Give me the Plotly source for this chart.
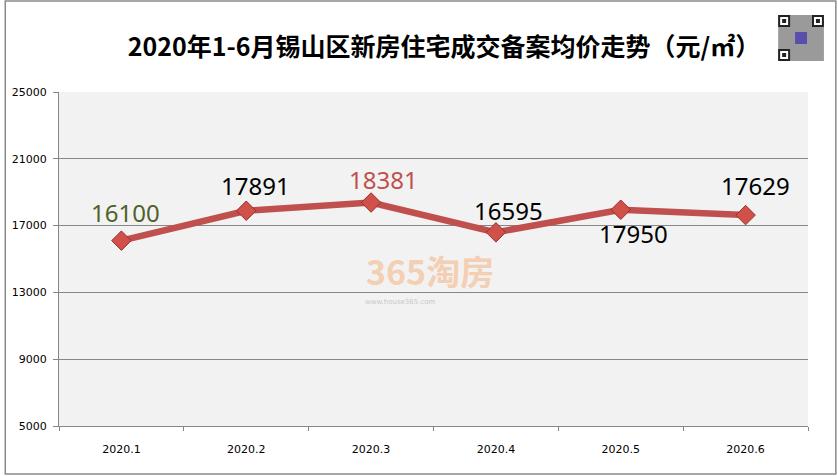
import plotly.graph_objects as go

# ---- data ----
months = ["2020.1", "2020.2", "2020.3", "2020.4", "2020.5", "2020.6"]
prices = [16100, 17891, 18381, 16595, 17950, 17629]
y_ticks = [5000, 9000, 13000, 17000, 21000, 25000]
title_text = "2020年1-6月锡山区新房住宅成交备案均价走势（元/㎡）"

# ---- styling ----
W, H = 838, 476
ML, MR, MT, MB = 55, 30, 92, 50
PW, PH = W - ML - MR, H - MT - MB
LINE = "#c0504d"
label_colors = ["#4f6228", "#000000", "#c0504d", "#000000", "#000000", "#000000"]
label_shift = [(4, 28), (9, 25), (12, 23), (13, 22), (13, -24), (10, 30)]


def px(x):
    return (x - ML) / PW


def py(y):
    return (H - MB - y) / PH


fig = go.Figure()
fig.add_trace(go.Scatter(
    x=months, y=prices, mode="lines+markers",
    line=dict(color=LINE, width=6.5),
    marker=dict(symbol="diamond", size=15, color="#d0504a",
                line=dict(color="#9b2f2c", width=1)),
    hoverinfo="x+y", showlegend=False,
))

annotations = []
for i, (v, c, (dx, dy)) in enumerate(zip(prices, label_colors, label_shift)):
    annotations.append(dict(
        x=i, y=v, xref="x", yref="y", text=str(v), showarrow=False,
        xshift=dx, yshift=dy,
        font=dict(family="Noto Sans", size=24, color=c),
    ))

# watermark
annotations.append(dict(
    x=px(428), y=py(270), xref="paper", yref="paper", text="<b>365淘房</b>",
    showarrow=False, font=dict(family="Noto Sans CJK SC", size=34, color="#f5b88a"),
    opacity=0.6,
))
annotations.append(dict(
    x=px(398), y=py(302), xref="paper", yref="paper", text="www.house365.com",
    showarrow=False, font=dict(family="DejaVu Sans", size=7, color="#c8c8c8"),
))

shapes = []
# outer border
shapes.append(dict(type="rect", xref="paper", yref="paper",
                   x0=px(1), x1=px(836), y0=py(474), y1=py(1),
                   line=dict(color="#8a8a8a", width=1.5), fillcolor="rgba(0,0,0,0)"))
# QR code approximation
qx0, qy0, qs = 778, 15, 46
shapes.append(dict(type="rect", xref="paper", yref="paper",
                   x0=px(qx0), x1=px(qx0 + qs), y0=py(qy0 + qs), y1=py(qy0),
                   line=dict(width=0), fillcolor="#9a9a9a"))
for (fx, fy) in [(qx0, qy0), (qx0 + qs - 12, qy0), (qx0, qy0 + qs - 12)]:
    shapes.append(dict(type="rect", xref="paper", yref="paper",
                       x0=px(fx), x1=px(fx + 12), y0=py(fy + 12), y1=py(fy),
                       line=dict(width=0), fillcolor="#222222"))
    shapes.append(dict(type="rect", xref="paper", yref="paper",
                       x0=px(fx + 2), x1=px(fx + 10), y0=py(fy + 10), y1=py(fy + 2),
                       line=dict(width=0), fillcolor="#ffffff"))
    shapes.append(dict(type="rect", xref="paper", yref="paper",
                       x0=px(fx + 4), x1=px(fx + 8), y0=py(fy + 8), y1=py(fy + 4),
                       line=dict(width=0), fillcolor="#222222"))
shapes.append(dict(type="rect", xref="paper", yref="paper",
                   x0=px(qx0 + 17), x1=px(qx0 + 29), y0=py(qy0 + 29), y1=py(qy0 + 17),
                   line=dict(width=0), fillcolor="#5a4fa8"))

fig.update_layout(
    width=W, height=H,
    margin=dict(l=ML, r=MR, t=MT, b=MB),
    paper_bgcolor="#ffffff", plot_bgcolor="#f2f2f2",
    title=dict(text=title_text, x=px(442), xref="paper", xanchor="center",
               y=1 - 47 / H, yref="container", yanchor="middle",
               font=dict(family="Noto Sans CJK SC", size=25, color="#000000", weight="bold")),
    annotations=annotations, shapes=shapes,
    xaxis=dict(type="category", tickson="boundaries", ticks="outside", ticklen=4,
               tickcolor="#868686", showline=True, linecolor="#868686", linewidth=1,
               showgrid=False, tickfont=dict(family="DejaVu Sans", size=11, color="#000000"),
               ticklabelstandoff=13, range=[-0.5, 5.5]),
    yaxis=dict(range=[5000, 25000], tickvals=y_ticks, ticktext=[str(t) for t in y_ticks],
               ticks="outside", ticklen=5, tickcolor="#868686", showline=True,
               linecolor="#868686", linewidth=1, showgrid=True, gridcolor="#868686",
               gridwidth=1, zeroline=False,
               tickfont=dict(family="DejaVu Sans", size=11, color="#000000"),
               ticklabelstandoff=4),
)

fig.write_html("out.html")
